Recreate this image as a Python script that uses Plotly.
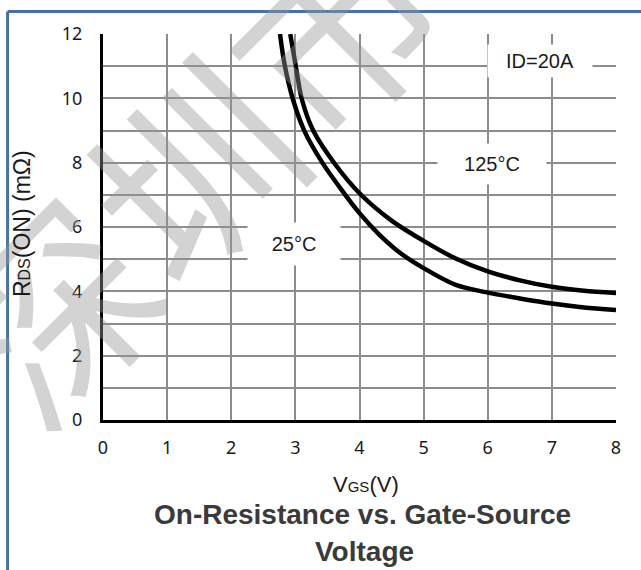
import plotly.graph_objects as go

# Gate-source voltage (V) and on-resistance (mOhm) at two junction temperatures
vgs_25 = [2.76, 2.83, 2.96, 3.14, 3.43, 3.70, 4.00, 4.30, 4.63, 5.00, 5.50, 6.00, 6.50, 7.00, 7.50, 8.00]
rds_25 = [12.0, 11.07, 9.98, 8.99, 7.97, 7.21, 6.43, 5.78, 5.20, 4.72, 4.20, 3.96, 3.78, 3.62, 3.50, 3.42]

vgs_125 = [2.92, 3.00, 3.10, 3.28, 3.62, 4.00, 4.50, 5.00, 5.50, 6.00, 6.50, 7.00, 7.50, 8.00]
rds_125 = [12.0, 11.07, 9.98, 8.99, 7.95, 7.05, 6.20, 5.57, 5.02, 4.62, 4.34, 4.14, 4.02, 3.95]

x_ticks = [0, 1, 2, 3, 4, 5, 6, 7, 8]
y_ticks = [0, 2, 4, 6, 8, 10, 12]

GRID = "#8c8c8c"
TEXT = "#1a1a1a"

fig = go.Figure()

for vx, ry in ((vgs_25, rds_25), (vgs_125, rds_125)):
    fig.add_trace(go.Scatter(
        x=vx, y=ry, mode="lines",
        line=dict(color="black", width=4.5, shape="spline", smoothing=0.8),
        showlegend=False, hoverinfo="skip",
    ))

fig.update_xaxes(
    range=[0, 8], tickvals=x_ticks, ticktext=[str(v) for v in x_ticks],
    showgrid=True, gridcolor=GRID, gridwidth=2,
    showline=True, linecolor="black", linewidth=3,
    zeroline=False, ticks="", ticklabelstandoff=9,
    tickfont=dict(family="Noto Sans", size=18, color=TEXT),
)
fig.update_yaxes(
    range=[0, 12], tickvals=y_ticks, ticktext=[str(v) for v in y_ticks],
    showgrid=True, gridcolor=GRID, gridwidth=2,
    minor=dict(dtick=1, showgrid=True, gridcolor=GRID, gridwidth=2),
    showline=True, linecolor="black", linewidth=3,
    zeroline=False, ticks="", ticklabelstandoff=14,
    tickfont=dict(family="Noto Sans", size=18, color=TEXT),
)

label_font = dict(family="Liberation Sans, Arial", size=20, color=TEXT)
annotations = [
    # condition and temperature labels, boxed in white so the grid breaks around them
    dict(x=6.815, y=11.16, text="ID=20A", width=104, height=32),
    dict(x=6.07, y=7.95, text="125°C", width=108, height=40),
    dict(x=2.98, y=5.47, text="25°C", width=92, height=42),
]
for a in annotations:
    fig.add_annotation(
        xref="x", yref="y", showarrow=False, bgcolor="white", borderpad=0,
        font=label_font, **a,
    )

centered = dict(xref="paper", yref="paper", showarrow=False, xanchor="center", yanchor="middle")

# faint company watermark across the upper left
fig.add_annotation(
    x=0.165, y=0.66, textangle=-45, text="深圳市",
    font=dict(family="Noto Sans CJK SC", size=200, color="rgba(150,150,150,0.42)"),
    **centered,
)

# axis titles
fig.add_annotation(
    x=0.5125, y=-0.168,
    text="V<span style='font-size:15px'>GS</span>(V)",
    font=dict(family="Liberation Sans, Arial", size=22, color=TEXT),
    **centered,
)
fig.add_annotation(
    x=-0.158, y=0.51, textangle=-90,
    text="R<span style='font-size:16px'>DS</span>(ON) (mΩ)",
    font=dict(family="Liberation Sans, Arial", size=23, color=TEXT),
    **centered,
)

# chart caption
cap_font = dict(family="Liberation Sans, Arial", size=28, color="#3a3a3a")
fig.add_annotation(
    x=0.505, y=-0.246, text="<b>On-Resistance vs. Gate-Source</b>", font=cap_font, **centered,
)
fig.add_annotation(
    x=0.51, y=-0.34, text="<b>Voltage</b>", font=cap_font, **centered,
)

# blue page frame (top and left edges)
frame = "#4672a4"
fig.add_shape(type="line", xref="paper", yref="paper", x0=-0.186, x1=1.06,
              y0=1.0583, y1=1.0583, line=dict(color=frame, width=3))
fig.add_shape(type="line", xref="paper", yref="paper", x0=-0.186, x1=-0.186,
              y0=1.0583, y1=-0.4, line=dict(color=frame, width=3))

fig.update_layout(
    width=641, height=570,
    margin=dict(l=103, r=25, t=34, b=150),
    paper_bgcolor="white", plot_bgcolor="white",
)

fig.write_html("out.html")
